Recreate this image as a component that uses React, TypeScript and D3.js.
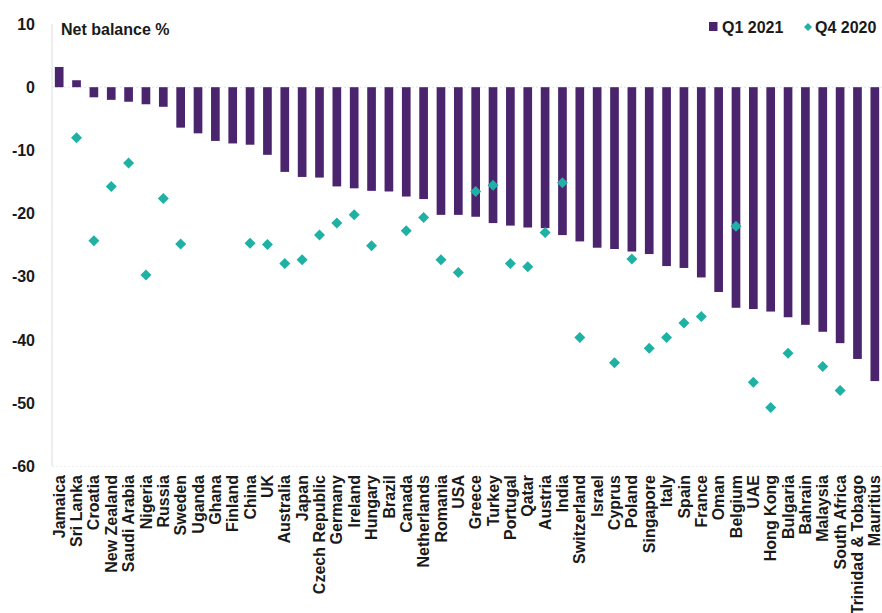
import React from "react";
import * as d3 from "d3";

// Countries, ordered by Q1 2021 net balance
const countries: string[] = [
  "Jamaica", "Sri Lanka", "Croatia", "New Zealand", "Saudi Arabia", "Nigeria",
  "Russia", "Sweden", "Uganda", "Ghana", "Finland", "China", "UK", "Australia",
  "Japan", "Czech Republic", "Germany", "Ireland", "Hungary", "Brazil", "Canada",
  "Netherlands", "Romania", "USA", "Greece", "Turkey", "Portugal", "Qatar",
  "Austria", "India", "Switzerland", "Israel", "Cyprus", "Poland", "Singapore",
  "Italy", "Spain", "France", "Oman", "Belgium", "UAE", "Hong Kong", "Bulgaria",
  "Bahrain", "Malaysia", "South Africa", "Trinidad & Tobago", "Mauritius",
];

// Q1 2021 net balance (%)
const q1_2021: number[] = [
  3.2, 1.1, -1.6, -2.0, -2.3, -2.7, -3.1, -6.4, -7.3, -8.5, -8.9, -9.1, -10.7,
  -13.4, -14.2, -14.3, -15.7, -16.0, -16.4, -16.5, -17.3, -17.7, -20.2, -20.2,
  -20.5, -21.5, -21.9, -22.2, -22.3, -23.4, -24.4, -25.4, -25.6, -26.0, -26.4,
  -28.3, -28.6, -30.1, -32.4, -34.9, -35.1, -35.5, -36.4, -37.6, -38.7, -40.5,
  -43.0, -46.5,
];

// Q4 2020 net balance (%); null where no reading exists
const q4_2020: (number | null)[] = [
  null, -8.0, -24.3, -15.7, -12.0, -29.7, -17.6, -24.8, null, null, null, -24.7,
  -24.9, -27.9, -27.3, -23.4, -21.5, -20.2, -25.1, null, -22.7, -20.6, -27.3,
  -29.3, -16.5, -15.5, -27.9, -28.4, -23.0, -15.1, -39.6, null, -43.6, -27.2,
  -41.3, -39.6, -37.3, -36.3, null, -22.0, -46.7, -50.7, -42.1, null, -44.2,
  -48.0, null, null,
];

const yTicks: number[] = [10, 0, -10, -20, -30, -40, -50, -60];

const seriesNames = ["Q1 2021", "Q4 2020"];

const W = 882;
const H = 613;
const PURPLE = "#4b246e";
const TEAL = "#1fb1a4";
const FONT = "'Liberation Sans', Arial, Helvetica, sans-serif";
const TEXT = "#1a1a1a";

const diamond = (cx: number, cy: number, r: number) =>
  `M${cx},${cy - r}L${cx + r},${cy}L${cx},${cy + r}L${cx - r},${cy}Z`;

export default function App() {
  const x = d3
    .scaleBand<string>()
    .domain(countries)
    .range([50.5, 883.5])
    .paddingInner(0.5)
    .paddingOuter(0.25);

  const y = d3.scaleLinear().domain([-60, 10]).range([466.4, 24]);

  const bw = x.bandwidth();
  const cx = (c: string) => (x(c) as number) + bw / 2;

  return (
    <svg
      width={W}
      height={H}
      style={{ position: "absolute", left: 0, top: 0, background: "#fff" }}
      fontFamily={FONT}
    >
      {/* axis line and baselines */}
      <line x1={52} x2={52} y1={y(10)} y2={y(-60)} stroke="#dcdcdc" strokeWidth={1} />
      <line
        x1={52}
        x2={883}
        y1={y(0)}
        y2={y(0)}
        stroke="#e4e4e4"
        strokeWidth={1}
        strokeDasharray="2,2"
      />
      <line
        x1={52}
        x2={883}
        y1={y(-60)}
        y2={y(-60)}
        stroke="#eeeeee"
        strokeWidth={1}
        strokeDasharray="2,2"
      />

      {/* y tick labels */}
      {yTicks.map((t) => (
        <text
          key={t}
          x={35}
          y={y(t)}
          dy="0.35em"
          textAnchor="end"
          fontSize={16}
          fontWeight="bold"
          fill={TEXT}
        >
          {t}
        </text>
      ))}

      {/* title */}
      <text x={61} y={35} fontSize={16} fontWeight="bold" fill={TEXT}>
        Net balance %
      </text>

      {/* Q1 2021 bars */}
      {countries.map((c, i) => {
        const v = q1_2021[i];
        const y0 = y(Math.max(0, v));
        const y1 = y(Math.min(0, v));
        return (
          <rect key={c} x={x(c)} y={y0} width={bw} height={y1 - y0} fill={PURPLE} />
        );
      })}

      {/* Q4 2020 markers */}
      {countries.map((c, i) => {
        const v = q4_2020[i];
        if (v === null) return null;
        return <path key={c} d={diamond(cx(c), y(v), 5.5)} fill={TEAL} />;
      })}

      {/* category labels */}
      {countries.map((c) => (
        <text
          key={c}
          transform={`translate(${cx(c)},475) rotate(-90)`}
          dy="0.35em"
          textAnchor="end"
          fontSize={16}
          fontWeight="bold"
          fill={TEXT}
        >
          {c}
        </text>
      ))}

      {/* legend */}
      <rect x={709} y={22} width={8.5} height={9} fill={PURPLE} />
      <text x={722} y={32.5} fontSize={16} fontWeight="bold" fill={TEXT}>
        {seriesNames[0]}
      </text>
      <path d={diamond(808, 27, 4)} fill={TEAL} />
      <text x={815} y={32.5} fontSize={16} fontWeight="bold" fill={TEXT}>
        {seriesNames[1]}
      </text>
    </svg>
  );
}
